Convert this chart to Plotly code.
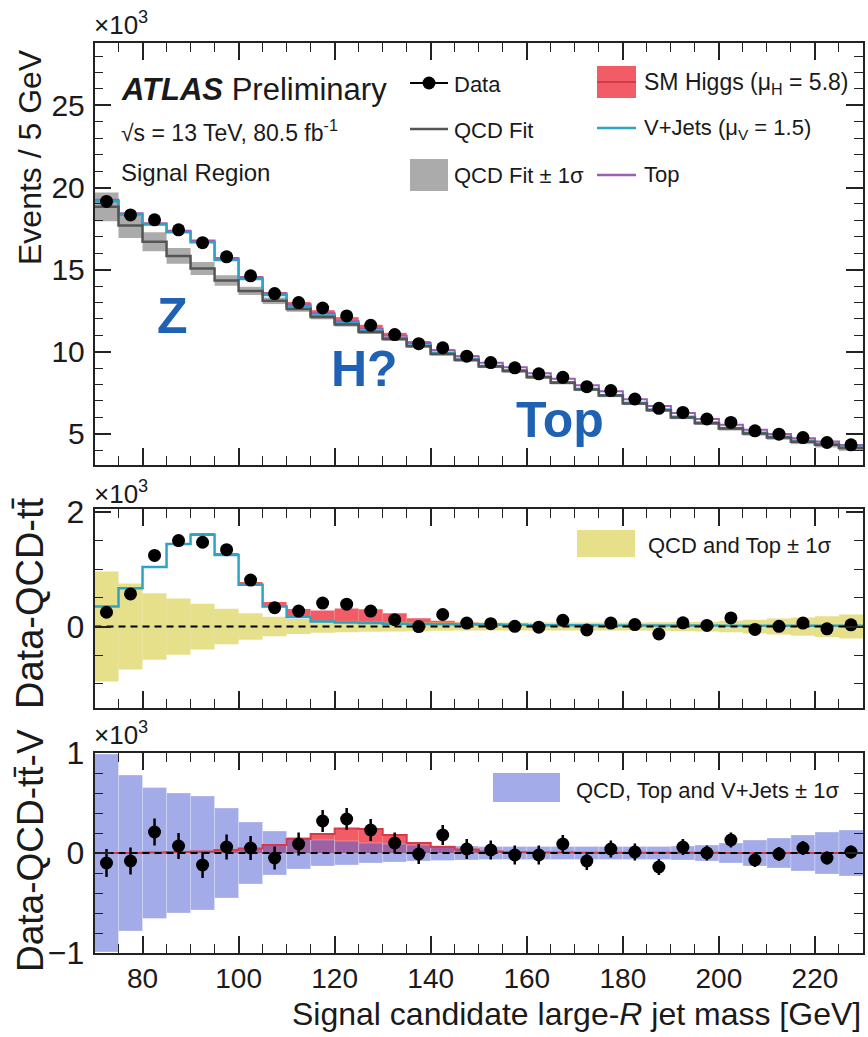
import plotly.graph_objects as go

# ---------------- data (x10^3 events) ----------------
bin_centers = [72.5, 77.5, 82.5, 87.5, 92.5, 97.5, 102.5, 107.5, 112.5, 117.5, 122.5,
               127.5, 132.5, 137.5, 142.5, 147.5, 152.5, 157.5, 162.5, 167.5, 172.5,
               177.5, 182.5, 187.5, 192.5, 197.5, 202.5, 207.5, 212.5, 217.5, 222.5, 227.5]
bin_width = 5.0

data_events = [19.15, 18.33, 18.03, 17.42, 16.64, 15.78, 14.62, 13.54, 12.99, 12.66, 12.18,
               11.61, 11.04, 10.49, 10.24, 9.73, 9.34, 9.02, 8.65, 8.44, 7.87,
               7.63, 7.12, 6.55, 6.30, 5.90, 5.69, 5.18, 4.98, 4.77, 4.47, 4.33]
qcd_fit = [18.82, 17.68, 16.70, 15.83, 15.07, 14.34, 13.70, 13.10, 12.60, 12.12, 11.66,
           11.20, 10.77, 10.33, 9.86, 9.49, 9.10, 8.82, 8.45, 8.11, 7.70,
           7.33, 6.85, 6.44, 6.00, 5.65, 5.32, 5.02, 4.78, 4.52, 4.33, 4.13]
qcd_fit_err = [0.87, 0.76, 0.58, 0.48, 0.40, 0.32, 0.25, 0.20, 0.17, 0.15, 0.13,
               0.12, 0.11, 0.10, 0.10, 0.10, 0.10, 0.10, 0.10, 0.10, 0.10,
               0.10, 0.10, 0.10, 0.11, 0.11, 0.12, 0.13, 0.14, 0.15, 0.16, 0.17]
top_events = [0.08, 0.08, 0.09, 0.09, 0.10, 0.10, 0.11, 0.11, 0.12, 0.13, 0.13,
              0.14, 0.15, 0.16, 0.17, 0.18, 0.19, 0.20, 0.21, 0.22, 0.23,
              0.24, 0.24, 0.24, 0.24, 0.23, 0.22, 0.21, 0.20, 0.19, 0.18, 0.17]
vjets_events = [0.35, 0.67, 1.04, 1.44, 1.60, 1.25, 0.73, 0.35, 0.165, 0.09, 0.07,
                0.06, 0.05, 0.045, 0.04, 0.035, 0.03, 0.03, 0.025, 0.025, 0.025,
                0.02, 0.02, 0.02, 0.02, 0.02, 0.015, 0.015, 0.015, 0.015, 0.015, 0.015]
higgs_events = [0.0, 0.0, 0.005, 0.01, 0.015, 0.03, 0.045, 0.08, 0.14, 0.19, 0.245,
                0.24, 0.18, 0.10, 0.06, 0.035, 0.015, 0.008, 0.005, 0.004, 0.003,
                0.003, 0.002, 0.002, 0.002, 0.002, 0.001, 0.001, 0.001, 0.001, 0.001, 0.001]

data_minus_qcd_tt = [0.25, 0.57, 1.24, 1.50, 1.47, 1.34, 0.81, 0.33, 0.27, 0.41, 0.39,
                     0.27, 0.12, 0.0, 0.21, 0.06, 0.05, 0.005, -0.01, 0.11, -0.06,
                     0.06, 0.035, -0.13, 0.065, 0.02, 0.15, -0.05, 0.005, 0.06, -0.04, 0.03]
qcd_top_err = [0.96, 0.75, 0.58, 0.49, 0.40, 0.31, 0.23, 0.17, 0.13, 0.11, 0.10,
               0.09, 0.085, 0.08, 0.075, 0.07, 0.07, 0.07, 0.07, 0.07, 0.07,
               0.07, 0.07, 0.075, 0.08, 0.085, 0.10, 0.12, 0.14, 0.16, 0.18, 0.21]

data_minus_qcd_tt_v = [-0.10, -0.08, 0.21, 0.07, -0.12, 0.06, 0.05, -0.05, 0.09, 0.32, 0.34,
                       0.23, 0.10, -0.01, 0.18, 0.04, 0.03, -0.02, -0.02, 0.09, -0.08,
                       0.04, 0.01, -0.14, 0.06, 0.0, 0.13, -0.07, -0.01, 0.05, -0.05, 0.01]
data_stat_err = [0.14, 0.135, 0.135, 0.13, 0.13, 0.125, 0.12, 0.115, 0.115, 0.11, 0.11,
                 0.11, 0.105, 0.10, 0.10, 0.10, 0.095, 0.095, 0.095, 0.09, 0.09,
                 0.085, 0.085, 0.08, 0.08, 0.075, 0.075, 0.07, 0.07, 0.07, 0.065, 0.065]
qcd_top_v_err = [0.99, 0.78, 0.655, 0.60, 0.57, 0.45, 0.31, 0.22, 0.16, 0.13, 0.12,
                 0.10, 0.09, 0.08, 0.075, 0.07, 0.065, 0.065, 0.065, 0.065, 0.065,
                 0.065, 0.065, 0.065, 0.07, 0.08, 0.10, 0.13, 0.15, 0.18, 0.21, 0.23]

x_ticks = [80, 100, 120, 140, 160, 180, 200, 220]

# ---------------- styling ----------------
W, H = 868, 1037
FONT = "Liberation Sans, Arial, sans-serif"
TXT = "#1a1a1a"
C_GRAY_BAND = "#ababab"
C_GRAY_LINE = "#555555"
C_RED = "#f25c66"
C_RED_LINE = "#d63a48"
C_CYAN = "#2fa3c5"
C_PURPLE = "#9d5cb8"
C_YELLOW = "rgba(214,204,60,0.6)"
C_BLUE = "rgba(88,104,214,0.55)"
C_ZHT = "#1f62b4"


def px(x):
    return x / W


def py(y):
    return 1 - y / H


edges = [c - bin_width / 2 for c in bin_centers] + [bin_centers[-1] + bin_width / 2]


def step_y(vals):
    return list(vals) + [vals[-1]]


def add_vals(*arrs):
    return [sum(v) for v in zip(*arrs)]


fig = go.Figure()

# ---------- top panel ----------
fig.add_trace(go.Bar(x=bin_centers, y=[2 * e for e in qcd_fit_err],
                     base=[q - e for q, e in zip(qcd_fit, qcd_fit_err)], width=bin_width,
                     marker=dict(color=C_GRAY_BAND, line=dict(width=0)), xaxis="x", yaxis="y"))
stack_v = add_vals(qcd_fit, vjets_events)
stack_vt = add_vals(qcd_fit, vjets_events, top_events)
fig.add_trace(go.Bar(x=bin_centers, y=higgs_events, base=stack_vt, width=bin_width,
                     marker=dict(color=C_RED, line=dict(width=0)), xaxis="x", yaxis="y"))
fig.add_trace(go.Scatter(x=edges, y=step_y(stack_vt), mode="lines", line_shape="hv",
                         line=dict(color=C_PURPLE, width=2), xaxis="x", yaxis="y"))
fig.add_trace(go.Scatter(x=edges, y=step_y(stack_v), mode="lines", line_shape="hv",
                         line=dict(color=C_CYAN, width=2.5), xaxis="x", yaxis="y"))
fig.add_trace(go.Scatter(x=edges, y=step_y(qcd_fit), mode="lines", line_shape="hv",
                         line=dict(color=C_GRAY_LINE, width=2.5), xaxis="x", yaxis="y"))
fig.add_trace(go.Scatter(x=bin_centers, y=data_events, mode="markers",
                         marker=dict(color="black", size=13), xaxis="x", yaxis="y"))

# ---------- middle panel ----------
fig.add_trace(go.Bar(x=bin_centers, y=higgs_events, base=vjets_events, width=bin_width,
                     marker=dict(color=C_RED, line=dict(width=0)), xaxis="x2", yaxis="y2"))
fig.add_trace(go.Scatter(x=edges, y=step_y(vjets_events), mode="lines", line_shape="hv",
                         line=dict(color=C_CYAN, width=2.5), xaxis="x2", yaxis="y2"))
fig.add_trace(go.Bar(x=bin_centers, y=[2 * e for e in qcd_top_err],
                     base=[-e for e in qcd_top_err], width=bin_width,
                     marker=dict(color=C_YELLOW, line=dict(width=0)), xaxis="x2", yaxis="y2"))
fig.add_trace(go.Scatter(x=[70, 230], y=[0, 0], mode="lines",
                         line=dict(color="black", width=2, dash="7px,5px"), xaxis="x2", yaxis="y2"))
fig.add_trace(go.Scatter(x=bin_centers, y=data_minus_qcd_tt, mode="markers",
                         marker=dict(color="black", size=13), xaxis="x2", yaxis="y2"))

# ---------- bottom panel ----------
fig.add_trace(go.Bar(x=bin_centers, y=higgs_events, width=bin_width,
                     marker=dict(color=C_RED, line=dict(width=0)), xaxis="x3", yaxis="y3"))
fig.add_trace(go.Bar(x=bin_centers, y=[2 * e for e in qcd_top_v_err],
                     base=[-e for e in qcd_top_v_err], width=bin_width,
                     marker=dict(color=C_BLUE, line=dict(width=0.8, color="rgba(255,255,255,0.35)")),
                     xaxis="x3", yaxis="y3"))
fig.add_trace(go.Scatter(x=edges, y=step_y(higgs_events), mode="lines", line_shape="hv",
                         line=dict(color=C_RED_LINE, width=2), xaxis="x3", yaxis="y3"))
fig.add_trace(go.Scatter(x=[70, 230], y=[0, 0], mode="lines",
                         line=dict(color="black", width=2, dash="7px,5px"), xaxis="x3", yaxis="y3"))
fig.add_trace(go.Scatter(x=bin_centers, y=data_minus_qcd_tt_v, mode="markers",
                         marker=dict(color="black", size=13),
                         error_y=dict(type="data", array=data_stat_err, color="black",
                                      thickness=2.5, width=0),
                         xaxis="x3", yaxis="y3"))

# ---------------- axes ----------------
XD = [px(94.5), px(863)]


def xaxis(anchor, labels, match=None):
    d = dict(domain=XD, anchor=anchor, range=[70, 230], tickvals=x_ticks,
             showticklabels=labels, ticks="inside", ticklen=17, tickwidth=1.5, tickcolor="#222",
             showline=True, linecolor="#222", linewidth=1.5, mirror="ticks",
             showgrid=False, zeroline=False, automargin=False,
             minor=dict(ticks="inside", ticklen=9, tickwidth=1.3, tickcolor="#222", dtick=5,
                        tick0=0, showgrid=False),
             tickfont=dict(family=FONT, size=28, color=TXT), ticklabelstandoff=0)
    if match:
        d["matches"] = match
    return d


def yaxis(domain, anchor, rng, tickvals, minor_dtick, fs):
    return dict(domain=domain, anchor=anchor, range=rng, tickvals=tickvals,
                ticks="inside", ticklen=17, tickwidth=1.5, tickcolor="#222",
                showline=True, linecolor="#222", linewidth=1.5, mirror="ticks",
                showgrid=False, zeroline=False, automargin=False,
                minor=dict(ticks="inside", ticklen=9, tickwidth=1.3, tickcolor="#222",
                           dtick=minor_dtick, tick0=0, showgrid=False),
                tickfont=dict(family=FONT, size=fs, color=TXT), ticklabelstandoff=2)


fig.update_layout(
    template="none",
    xaxis=xaxis("y", False, "x3"),
    xaxis2=xaxis("y2", False, "x3"),
    xaxis3=xaxis("y3", True),
    yaxis=yaxis([py(465), py(43)], "x", [3.1, 28.8], [5, 10, 15, 20, 25], 1, 30),
    yaxis2=yaxis([py(708), py(509)], "x2", [-1.42, 2.05], [0, 2], 0.5, 32),
    yaxis3=yaxis([py(953), py(753)], "x3", [-1.0, 1.0], [-1, 0, 1], 0.2, 32),
)

# ---------------- text ----------------
ann = []


def text(x, y, s, size, xanchor="left", yanchor="middle", color=TXT, angle=0):
    ann.append(dict(x=px(x), y=py(y), xref="paper", yref="paper", text=s, showarrow=False,
                    xanchor=xanchor, yanchor=yanchor, textangle=angle,
                    font=dict(family=FONT, size=size, color=color)))


text(92, 24, "×10<sup>3</sup>", 26)
text(92, 492, "×10<sup>3</sup>", 26)
text(92, 733, "×10<sup>3</sup>", 26)

text(30, 157, "Events / 5 GeV", 32, xanchor="center", angle=-90)
text(30, 603, "Data-QCD-tt\u0304", 38, xanchor="center", angle=-90)
text(30, 851, "Data-QCD-tt\u0304-V", 37, xanchor="center", angle=-90)
text(863, 1014, "Signal candidate large-<i>R</i> jet mass [GeV]", 32, xanchor="right")

text(119, 89, "<b><i>ATLAS</i></b> Preliminary", 31)
text(119, 131, "√s = 13 TeV, 80.5 fb<sup>-1</sup>", 23)
text(119, 172, "Signal Region", 24)

text(452, 84, "Data", 22)
text(452, 130, "QCD Fit", 22)
text(452, 176, "QCD Fit ± 1σ", 22)
text(642, 83, "SM Higgs (μ<sub>H</sub> = 5.8)", 23)
text(642, 129, "V+Jets (μ<sub>V</sub> = 1.5)", 22)
text(642, 175, "Top", 22)
text(646, 545, "QCD and Top ± 1σ", 22)
text(574, 790, "QCD, Top and V+Jets ± 1σ", 22)

text(172, 316, "<b>Z</b>", 50, xanchor="center", color=C_ZHT)
text(364, 369, "<b>H?</b>", 50, xanchor="center", color=C_ZHT)
text(560, 420, "<b>Top</b>", 50, xanchor="center", color=C_ZHT)

# ---------------- legend symbols ----------------
shapes = []


def rect(x0, y0, x1, y1, color):
    shapes.append(dict(type="rect", xref="paper", yref="paper", x0=px(x0), x1=px(x1),
                       y0=py(y1), y1=py(y0), fillcolor=color, line=dict(width=0)))


def hline(x0, x1, y, color, w):
    shapes.append(dict(type="line", xref="paper", yref="paper", x0=px(x0), x1=px(x1),
                       y0=py(y), y1=py(y), line=dict(color=color, width=w)))


hline(410, 448, 83, "black", 2)
shapes.append(dict(type="circle", xref="paper", yref="paper", x0=px(422.5), x1=px(435.5),
                   y0=py(89.5), y1=py(76.5), fillcolor="black", line=dict(width=0)))
hline(410, 448, 129, C_GRAY_LINE, 2.5)
rect(410, 159, 448, 191, C_GRAY_BAND)
rect(597, 66, 636, 98, C_RED)
hline(597, 636, 82, C_RED_LINE, 2)
hline(597, 636, 128, C_CYAN, 2.5)
hline(597, 636, 175, C_PURPLE, 2.5)
rect(577, 530, 635, 557, C_YELLOW)
rect(493, 773, 560, 802, C_BLUE)

fig.update_layout(
    width=W, height=H, margin=dict(l=0, r=0, t=0, b=0, pad=0),
    paper_bgcolor="white", plot_bgcolor="white",
    showlegend=False, barmode="overlay",
    annotations=ann, shapes=shapes,
    font=dict(family=FONT, color=TXT),
)

fig.write_html("out.html", config={"displayModeBar": False},
               post_script="document.body.style.margin='0px';document.body.style.overflow='hidden';")
